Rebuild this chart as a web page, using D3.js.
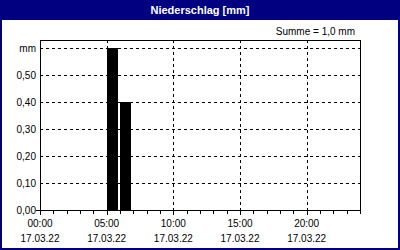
<!DOCTYPE html>
<meta charset="utf-8">
<style>
    body { margin: 0; background: #fff; }
    svg { display: block; font-family: "Liberation Sans", Arial, sans-serif; font-size: 10px; }
    .grid line { stroke: #000; stroke-dasharray: 3,3; shape-rendering: crispEdges; }
    .axis path, .axis line { stroke: #000; shape-rendering: crispEdges; }
</style>
<body>
<script src="https://d3js.org/d3.v7.min.js"></script>
<script>

// hourly precipitation, 17.03.22 (mm)
var hours = [0, 1, 2, 3, 4, 5, 6, 7, 8, 9, 10, 11, 12, 13, 14, 15, 16, 17, 18, 19, 20, 21, 22, 23];
var values = [0, 0, 0, 0, 0, 0.6, 0.4, 0, 0, 0, 0, 0, 0, 0, 0, 0, 0, 0, 0, 0, 0, 0, 0, 0];
var yTicks = [0, 0.1, 0.2, 0.3, 0.4, 0.5, 0.6];
var yLabels = ["0,00", "0,10", "0,20", "0,30", "0,40", "0,50", "mm"];
var xTicks = [0, 5, 10, 15, 20];
var xTimes = ["00:00", "05:00", "10:00", "15:00", "20:00"];
var xDate = "17.03.22";
var title = "Niederschlag [mm]";
var summe = "Summe = 1,0 mm";

var W = 400, H = 250;
var pLeft = 40, pRight = 360, pTop = 40, pBottom = 210;

var x = d3.scaleLinear().domain([0, 24]).range([pLeft, pRight]);
var y = d3.scaleLinear().domain([0, 0.63]).range([pBottom, pTop]);

var svg = d3.select("body").append("svg")
    .attr("width", W)
    .attr("height", H);

// frame + title bar
svg.append("rect").attr("x", 0).attr("y", 0).attr("width", W).attr("height", H).attr("fill", "#000080");
svg.append("rect").attr("x", 2).attr("y", 20).attr("width", W - 4).attr("height", H - 22).attr("fill", "#fff");

svg.append("text")
    .attr("x", W / 2)
    .attr("y", 14)
    .attr("text-anchor", "middle")
    .attr("fill", "#fff")
    .attr("font-weight", "bold")
    .attr("font-size", "11px")
    .text(title);

svg.append("text")
    .attr("x", 355)
    .attr("y", 35)
    .attr("text-anchor", "end")
    .text(summe);

// grid lines
var grid = svg.append("g").attr("class", "grid");
grid.selectAll(".hg")
    .data(yTicks.slice(1))
    .enter().append("line")
    .attr("x1", pLeft).attr("x2", pRight)
    .attr("y1", function (d) { return Math.round(y(d)) + 0.5; })
    .attr("y2", function (d) { return Math.round(y(d)) + 0.5; });
grid.selectAll(".vg")
    .data(xTicks.slice(1))
    .enter().append("line")
    .attr("y1", pTop).attr("y2", pBottom)
    .attr("x1", function (d) { return Math.round(x(d)) + 0.5; })
    .attr("x2", function (d) { return Math.round(x(d)) + 0.5; });

// bars
svg.selectAll(".bar")
    .data(hours.filter(function (h, i) { return values[i] > 0; }))
    .enter().append("rect")
    .attr("x", function (h) { return Math.round(x(h)); })
    .attr("width", function (h) { return Math.round(x(h + 1)) - Math.round(x(h)) - 2; })
    .attr("y", function (h) { return Math.round(y(values[h])); })
    .attr("height", function (h) { return pBottom - Math.round(y(values[h])); })
    .attr("fill", "#000");

// plot border
svg.append("rect")
    .attr("x", pLeft + 0.5).attr("y", pTop + 0.5)
    .attr("width", pRight - pLeft).attr("height", pBottom - pTop)
    .attr("fill", "none").attr("stroke", "#000")
    .attr("shape-rendering", "crispEdges");

// x axis: hourly minor ticks
var xAxis = svg.append("g").attr("class", "axis");
xAxis.selectAll(".mt")
    .data(hours.concat([24]))
    .enter().append("line")
    .attr("x1", function (d) { return Math.round(x(d)) + 0.5; })
    .attr("x2", function (d) { return Math.round(x(d)) + 0.5; })
    .attr("y1", pBottom)
    .attr("y2", function (d) { return xTicks.indexOf(d) >= 0 ? pBottom + 5 : pBottom + 4; });

xAxis.selectAll(".xl")
    .data(xTicks)
    .enter().append("text")
    .attr("x", function (d) { return x(d); })
    .attr("y", 227)
    .attr("text-anchor", "middle")
    .text(function (d, i) { return xTimes[i]; });
xAxis.selectAll(".xd")
    .data(xTicks)
    .enter().append("text")
    .attr("x", function (d) { return x(d); })
    .attr("y", 242)
    .attr("text-anchor", "middle")
    .text(xDate);

// y axis labels
svg.append("line")
    .attr("x1", pLeft - 4).attr("x2", pLeft)
    .attr("y1", pBottom + 0.5).attr("y2", pBottom + 0.5)
    .attr("stroke", "#000").attr("shape-rendering", "crispEdges");
svg.selectAll(".yl")
    .data(yTicks)
    .enter().append("text")
    .attr("x", 36)
    .attr("y", function (d) { return y(d) + 3.5; })
    .attr("text-anchor", "end")
    .text(function (d, i) { return yLabels[i]; });

</script>
</body>
